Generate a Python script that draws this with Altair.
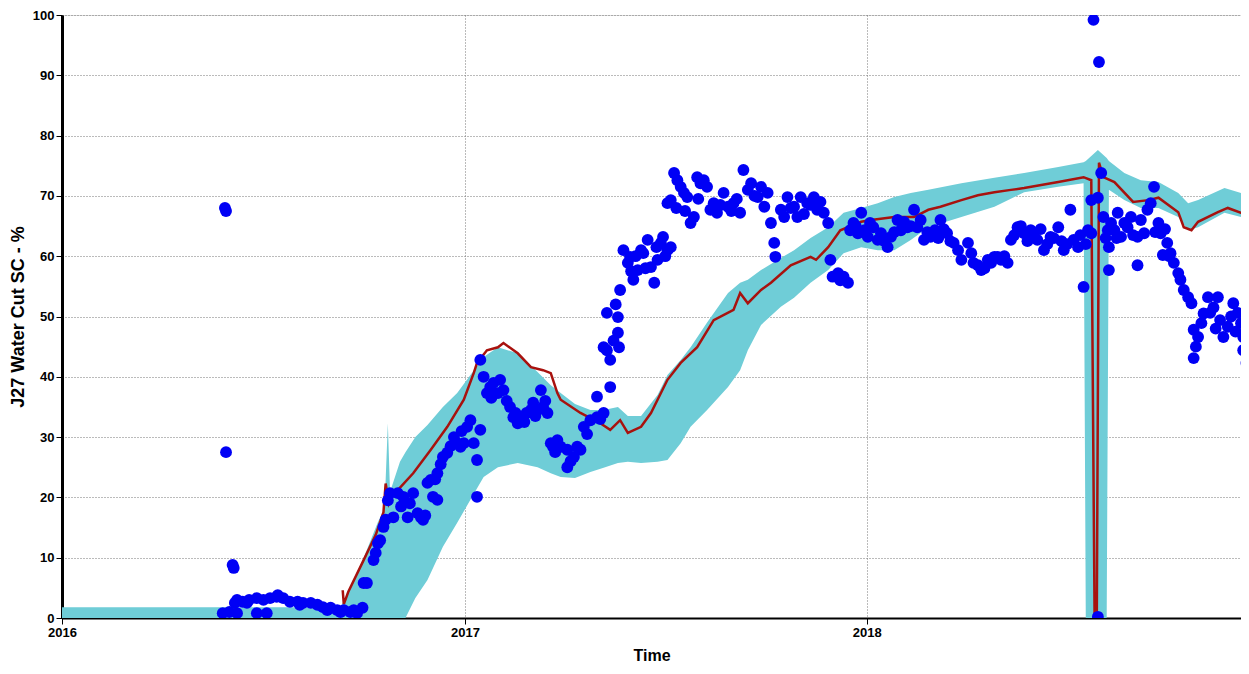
import altair as alt
import pandas as pd

# ---------------- data ----------------
band_dates = ["2016-01-01", "2016-09-10", "2016-09-19", "2016-10-02", "2016-10-14", "2016-10-20",
              "2016-10-23", "2016-10-25", "2016-11-03", "2016-11-08", "2016-11-17", "2016-11-28",
              "2016-12-12", "2016-12-25", "2017-01-06", "2017-01-18", "2017-01-31", "2017-02-18",
              "2017-03-08", "2017-03-20", "2017-03-29", "2017-04-11", "2017-04-25", "2017-05-07",
              "2017-05-20", "2017-05-29", "2017-06-10", "2017-06-25", "2017-07-04", "2017-07-16",
              "2017-07-25", "2017-08-09", "2017-08-28", "2017-09-08", "2017-09-15", "2017-09-27",
              "2017-10-15", "2017-10-27", "2017-11-11", "2017-11-27", "2017-12-11", "2017-12-27",
              "2018-01-11", "2018-01-26", "2018-02-10", "2018-02-26", "2018-03-28", "2018-04-27",
              "2018-05-24", "2018-06-24", "2018-07-17", "2018-07-19", "2018-07-30", "2018-08-07",
              "2018-08-09", "2018-08-23", "2018-09-07", "2018-09-23", "2018-10-11", "2018-10-20",
              "2018-10-29", "2018-11-22", "2018-12-07", "2018-12-15"]
band_upper = [1.8, 1.8, 5.0, 10.4, 15.9, 18.2,
              32.3, 20.9, 25.9, 27.5, 30.0, 32.0,
              35.0, 37.3, 40.3, 43.3, 44.9, 43.9,
              40.8, 38.6, 37.3, 35.5, 34.5, 34.5,
              35.0, 33.5, 33.5, 37.0, 40.3, 42.8,
              44.9, 49.0, 53.9, 55.6, 56.1, 57.7,
              59.7, 61.0, 63.0, 64.8, 67.2, 68.0,
              68.8, 69.8, 70.5, 71.0, 72.1, 73.0,
              73.8, 74.8, 75.6, 75.8, 77.6, 76.3,
              75.8, 73.8, 72.6, 72.3, 70.5, 68.8,
              69.3, 71.3, 70.5, 70.1]
band_lower = [0, 0, 0, 0, 0, 0,
              0, 0, 0, 0, 3.3, 6.3,
              11.8, 15.8, 19.6, 23.4, 25.0, 25.7,
              25.0, 24.0, 23.4, 23.2, 24.2, 24.9,
              25.7, 25.9, 25.7, 25.9, 26.2, 29.0,
              31.7, 34.5, 38.3, 41.1, 44.4, 48.6,
              51.6, 53.1, 55.6, 57.7, 60.5, 61.5,
              61.0, 61.0, 62.7, 64.8, 66.5, 68.2,
              70.6, 71.5, 72.1, 0, 0, 0,
              71.0, 69.3, 68.0, 68.0, 66.5, 64.3,
              64.8, 67.2, 66.5, 66.3]

hist_dates = ["2016-09-12", "2016-09-13", "2016-09-17", "2016-10-01", "2016-10-12", "2016-10-19",
              "2016-10-21", "2016-10-24", "2016-10-27", "2016-11-01", "2016-11-15", "2016-12-01",
              "2016-12-16", "2016-12-31", "2017-01-09", "2017-01-12", "2017-01-21", "2017-01-31",
              "2017-02-05", "2017-02-18", "2017-03-02", "2017-03-13", "2017-03-20", "2017-03-26",
              "2017-03-29", "2017-04-16", "2017-05-04", "2017-05-13", "2017-05-22", "2017-05-29",
              "2017-06-10", "2017-06-19", "2017-07-04", "2017-07-16", "2017-07-31", "2017-08-15",
              "2017-09-02", "2017-09-08", "2017-09-15", "2017-09-27", "2017-10-06", "2017-10-24",
              "2017-11-11", "2017-11-16", "2017-11-27", "2017-12-08", "2017-12-27", "2018-01-05",
              "2018-01-26", "2018-02-13", "2018-02-26", "2018-03-09", "2018-03-28", "2018-04-12",
              "2018-04-27", "2018-05-12", "2018-05-24", "2018-06-24", "2018-07-17", "2018-07-24",
              "2018-07-27", "2018-07-29", "2018-07-31", "2018-08-04", "2018-08-14", "2018-08-31",
              "2018-09-14", "2018-09-23", "2018-10-11", "2018-10-16", "2018-10-23", "2018-10-29",
              "2018-11-16", "2018-11-25", "2018-12-07", "2018-12-15"]
hist_values = [4.6, 2.3, 4.3, 9.6, 13.8, 17.5,
               22.3, 19.0, 20.4, 21.2, 24.0, 27.9,
               31.7, 36.2, 40.6, 42.3, 44.4, 44.9,
               45.6, 43.9, 41.6, 41.1, 40.6, 37.3,
               36.2, 34.0, 32.3, 31.2, 32.8, 30.7,
               31.7, 34.0, 39.5, 42.3, 44.9, 49.4,
               51.1, 53.9, 52.2, 54.4, 55.6, 58.5,
               59.9, 59.4, 61.5, 64.3, 65.7, 66.0,
               66.5, 66.5, 67.7, 68.2, 69.3, 70.1,
               70.6, 71.0, 71.3, 72.3, 73.1, 72.6,
               0, 0, 75.5, 73.1, 72.3, 69.0,
               69.3, 69.7, 67.3, 64.8, 64.3, 65.7,
               67.3, 68.0, 67.2, 66.8]

obs_dates = [
    "2016-05-28", "2016-05-29", "2016-05-29", "2016-06-04", "2016-06-05", "2016-05-26", "2016-06-01",
    "2016-06-06", "2016-06-08", "2016-06-08", "2016-06-13", "2016-06-17", "2016-06-19", "2016-06-26",
    "2016-06-26", "2016-07-02", "2016-07-05", "2016-07-08", "2016-07-14", "2016-07-15", "2016-07-20",
    "2016-07-26", "2016-08-02", "2016-08-04", "2016-08-07", "2016-08-14", "2016-08-20", "2016-08-25",
    "2016-08-29", "2016-09-01", "2016-09-07", "2016-09-10", "2016-09-13", "2016-09-19", "2016-09-22",
    "2016-09-25", "2016-09-30", "2016-10-01", "2016-10-04", "2016-10-10", "2016-10-12", "2016-10-14",
    "2016-10-16", "2016-10-19", "2016-10-21", "2016-10-25", "2016-10-28", "2016-11-01", "2016-11-06",
    "2016-11-10", "2016-11-15", "2016-11-19", "2016-11-22", "2016-11-24", "2016-11-28", "2016-12-01",
    "2016-12-03", "2016-12-07", "2016-12-07", "2016-12-12", "2016-12-16", "2016-12-22", "2016-12-25",
    "2016-12-28", "2016-12-31", "2017-01-03", "2017-01-06", "2017-01-09", "2017-01-12", "2017-01-12",
    "2017-01-15", "2017-01-15", "2017-01-18", "2017-01-21", "2017-01-24", "2017-01-27", "2017-01-31",
    "2017-02-02", "2017-02-05", "2017-02-11", "2017-02-14", "2017-02-18", "2017-02-20", "2017-02-23",
    "2017-02-26", "2017-03-02", "2017-03-04", "2017-03-08", "2017-03-11", "2017-03-13", "2017-03-17",
    "2017-03-20", "2017-03-22", "2017-03-26", "2017-03-29", "2017-04-04", "2017-04-04", "2017-04-10",
    "2017-04-13", "2017-04-16", "2017-04-19", "2017-04-25", "2017-05-01", "2017-05-07", "2017-05-01",
    "2017-05-13", "2017-05-07", "2017-05-10", "2017-05-13", "2017-05-10", "2017-05-20", "2017-05-20",
    "2017-05-21", "2017-05-22", "2017-05-25", "2017-05-29", "2017-05-31", "2017-06-03", "2017-06-07",
    "2017-06-10", "2017-06-12", "2017-06-16", "2017-06-19", "2017-06-22", "2017-06-25", "2017-06-28",
    "2017-06-30", "2017-07-04", "2017-07-07", "2017-07-04", "2017-07-07", "2017-07-10", "2017-07-13",
    "2017-07-16", "2017-07-19", "2017-07-22", "2017-07-25", "2017-07-28", "2017-07-31", "2017-08-03",
    "2017-08-06", "2017-08-09", "2017-08-12", "2017-08-15", "2017-08-18", "2017-08-24", "2017-08-28",
    "2017-09-02", "2017-09-08", "2017-09-11", "2017-09-15", "2017-09-18", "2017-09-24", "2017-09-30",
    "2017-09-27", "2017-10-03", "2017-10-06", "2017-10-09", "2017-10-10", "2017-10-15", "2017-10-21",
    "2017-10-27", "2017-10-30", "2017-11-02", "2017-11-08", "2017-11-14", "2017-11-17", "2017-11-23",
    "2017-11-27", "2017-11-29", "2017-12-01", "2017-12-06", "2017-12-11", "2017-12-15", "2017-12-17",
    "2017-12-20", "2017-12-24", "2017-12-27", "2017-12-30", "2018-01-02", "2018-01-07", "2018-01-11",
    "2018-01-14", "2018-01-20", "2018-01-23", "2018-01-29", "2018-02-01", "2018-02-04", "2018-02-07",
    "2018-02-13", "2018-02-16", "2018-02-22", "2018-02-28", "2018-03-04", "2018-03-09", "2018-03-15",
    "2018-03-21", "2018-03-25", "2018-03-28", "2018-04-03", "2018-04-08", "2018-04-15", "2018-04-21",
    "2018-04-24", "2018-04-27", "2018-04-30", "2018-05-03", "2018-05-09", "2018-05-12", "2018-05-18",
    "2018-05-24", "2018-05-30", "2018-06-05", "2018-06-11", "2018-06-17", "2018-06-24", "2018-06-29",
    "2018-07-05", "2018-07-08", "2018-07-12", "2018-07-17", "2018-07-21", "2018-07-24", "2018-07-24",
    "2018-07-26", "2018-07-30", "2018-07-30", "2018-07-31", "2018-08-02", "2018-08-04", "2018-08-08",
    "2018-08-09", "2018-08-09", "2018-08-14", "2018-08-17", "2018-08-20", "2018-08-26", "2018-08-29",
    "2018-09-04", "2018-09-04", "2018-09-10", "2018-09-13", "2018-09-16", "2018-09-19", "2018-09-23",
    "2018-09-25", "2018-09-27", "2018-10-01", "2018-10-04", "2018-10-07", "2018-10-11", "2018-10-13",
    "2018-10-16", "2018-10-20", "2018-10-23", "2018-10-25", "2018-10-25", "2018-10-29", "2018-11-01",
    "2018-11-07", "2018-11-09", "2018-11-16", "2018-11-18", "2018-11-21", "2018-11-25", "2018-11-30",
    "2018-12-04", "2018-12-07", "2018-12-09", "2018-12-09", "2018-12-12", "2018-12-14",
    # denser fill-in, read from the clusters
    "2016-10-23", "2016-11-04", "2016-11-12", "2016-11-26", "2016-12-05", "2016-12-10", "2016-12-19",
    "2016-12-29", "2017-01-25", "2017-02-08", "2017-02-16", "2017-02-24", "2017-03-06", "2017-03-15",
    "2017-03-24", "2017-04-07", "2017-04-22", "2017-05-04", "2017-05-16", "2017-05-18", "2017-06-01",
    "2017-06-05", "2017-06-14", "2017-06-24", "2017-07-02", "2017-07-12", "2017-07-20", "2017-08-01",
    "2017-08-21", "2017-08-31", "2017-09-05", "2017-09-21", "2017-10-18", "2017-10-24", "2017-11-05",
    "2017-11-11", "2017-11-20", "2017-12-08", "2017-12-22", "2018-01-04", "2018-01-17", "2018-01-26",
    "2018-02-10", "2018-02-19", "2018-02-25", "2018-03-07", "2018-03-12", "2018-03-18", "2018-04-06",
    "2018-04-12", "2018-04-18", "2018-05-06", "2018-05-15", "2018-05-21", "2018-05-27", "2018-06-02",
    "2018-06-08", "2018-06-14", "2018-06-20", "2018-06-27", "2018-07-02", "2018-07-14", "2018-07-19",
    "2018-08-06", "2018-08-11", "2018-08-16", "2018-08-23", "2018-08-31", "2018-09-07", "2018-09-20",
    "2018-09-29", "2018-10-03", "2018-10-27", "2018-11-03", "2018-11-12", "2018-11-14", "2018-11-28",
    "2018-12-02"]
obs_values = [
    68.0, 67.5, 27.5, 8.8, 8.3, 0.8, 1.0,
    2.5, 3.0, 0.8, 2.7, 2.5, 3.0, 3.3,
    0.8, 3.0, 0.8, 3.3, 3.5, 3.8, 3.3,
    2.7, 2.7, 2.2, 2.5, 2.5, 2.2, 1.8,
    1.3, 1.7, 1.3, 1.0, 1.3, 1.0, 1.3,
    0.8, 1.7, 5.8, 5.8, 9.6, 10.8, 12.4,
    12.9, 15.1, 16.3, 20.7, 16.7, 20.7, 20.1,
    16.7, 20.7, 17.4, 16.7, 16.3, 22.4, 22.9,
    20.1, 19.6, 24.0, 26.7, 27.4, 30.0, 29.0,
    28.4, 29.0, 31.7, 32.8, 29.0, 26.2, 20.1,
    31.2, 42.8, 40.0, 37.3, 38.3, 39.0, 37.3,
    39.5, 37.8, 35.0, 33.3, 32.3, 32.8, 33.3,
    34.0, 34.5, 35.7, 34.5, 37.8, 35.0, 34.0,
    29.0, 28.4, 29.5, 28.4, 27.9, 25.0, 26.7,
    28.4, 27.9, 31.7, 32.8, 33.3, 34.0, 36.7,
    38.3, 44.9, 44.4, 42.8, 50.6, 49.9, 47.3,
    44.9, 54.4, 61.0, 58.9, 59.9, 56.1, 57.7,
    61.0, 60.5, 62.7, 58.2, 55.6, 59.4, 62.2,
    63.2, 61.0, 61.5, 68.8, 69.3, 73.8, 72.6,
    71.5, 70.5, 69.8, 65.5, 66.5, 73.1, 72.1,
    72.6, 71.5, 67.7, 68.8, 67.2, 70.5, 68.2,
    68.8, 67.2, 74.3, 71.0, 72.1, 69.8, 68.2,
    71.5, 70.5, 65.5, 62.2, 59.9, 67.7, 69.8,
    68.2, 66.5, 69.8, 68.8, 69.8, 67.7, 67.2,
    65.5, 59.4, 56.6, 57.2, 56.6, 55.6, 64.3,
    65.5, 63.8, 67.2, 64.3, 63.2, 64.8, 62.7,
    63.8, 61.5, 63.2, 66.0, 64.3, 65.7, 64.8,
    67.7, 64.8, 62.7, 63.2, 64.3, 66.0, 63.8,
    62.2, 61.0, 59.4, 62.2, 58.9, 57.7, 59.4,
    58.9, 59.9, 59.9, 59.4, 58.9, 62.7, 64.8,
    63.8, 64.3, 62.7, 61.0, 63.2, 64.8, 61.0,
    67.7, 62.7, 61.5, 54.9, 64.3, 63.8, 69.3,
    99.2, 69.7, 0.2, 92.2, 73.8, 66.5, 64.3,
    61.5, 57.7, 64.3, 67.2, 63.2, 64.8, 66.5,
    63.2, 58.5, 63.8, 67.7, 68.8, 71.5, 65.5,
    63.8, 60.2, 62.2, 60.5, 58.9, 57.2, 56.1,
    54.4, 53.2, 52.2, 47.8, 43.1, 46.6, 48.9,
    53.2, 50.6, 53.2, 49.4, 46.6, 48.3, 52.2,
    50.6, 48.9, 46.6, 44.4, 42.3, 40.6,
    19.5, 18.5, 19.0, 17.0, 23.0, 25.5, 28.5,
    31.0, 36.5, 36.0, 34.0, 32.5, 33.5, 36.0,
    27.5, 26.0, 30.5, 33.0, 46.0, 52.0, 57.5,
    60.0, 58.0, 61.5, 60.0, 68.0, 67.5, 69.5,
    68.5, 67.5, 69.5, 70.0, 66.5, 68.0, 67.0,
    68.5, 69.0, 56.0, 65.0, 65.5, 62.5, 64.0,
    65.0, 66.0, 64.0, 63.0, 64.5, 62.5, 60.5,
    58.5, 58.0, 60.0, 63.5, 65.0, 62.5, 63.5,
    64.5, 62.0, 63.0, 62.5, 62.0, 63.5, 62.0,
    63.0, 65.5, 63.0, 65.5, 63.5, 66.0, 64.0,
    64.5, 60.0, 45.0, 50.5, 51.5, 48.0, 50.0,
    47.5]

y_ticks = [0, 10, 20, 30, 40, 50, 60, 70, 80, 90, 100]
x_tick_years = [2016, 2017, 2018]

# ---------------- tables ----------------
band_df = pd.DataFrame({"date": pd.to_datetime(band_dates), "upper": band_upper, "lower": band_lower})
hist_df = pd.DataFrame({"date": pd.to_datetime(hist_dates), "value": hist_values})
obs_df = pd.DataFrame({"date": pd.to_datetime(obs_dates), "value": obs_values})

FONT = "Liberation Sans"
CYAN = "#6FCDD7"
RED = "#A8120E"
BLUE = "#0000F5"

x_scale = alt.Scale(domain=[alt.DateTime(year=2016, month=1, date=1),
                            alt.DateTime(year=2018, month=12, date=7)])
y_scale = alt.Scale(domain=[0, 100], nice=False, zero=True)

x_axis = alt.Axis(
    title="Time", values=[alt.DateTime(year=y, month=1, date=1) for y in x_tick_years],
    format="%Y", labelFlush=False, labelFont=FONT, labelFontWeight="bold", labelFontSize=13,
    labelColor="#000", titleFont=FONT, titleFontWeight="bold", titleFontSize=16, titleColor="#000",
    titlePadding=8, tickColor="#000", tickSize=6, domainColor="#000", domainWidth=2,
    grid=True, gridColor="#777", gridDash=[1, 2], gridWidth=1, labelPadding=2,
)
y_axis = alt.Axis(
    title="J27 Water Cut SC - %", values=y_ticks, labelFlush=False, labelFont=FONT,
    labelFontWeight="bold", labelFontSize=13, labelColor="#000", titleFont=FONT,
    titleFontWeight="bold", titleFontSize=18, titleColor="#000", titlePadding=5,
    tickColor="#000", tickSize=6, domainColor="#000", domainWidth=3,
    grid=True, gridColor="#777", gridDash=[1, 2], gridWidth=1, labelPadding=2,
)

band = alt.Chart(band_df).mark_area(color=CYAN, opacity=1, clip=True).encode(
    x=alt.X("date:T", scale=x_scale, axis=x_axis),
    y=alt.Y("upper:Q", scale=y_scale, axis=y_axis),
    y2="lower:Q",
)

hist = alt.Chart(hist_df).mark_line(color=RED, strokeWidth=2.5, clip=True).encode(
    x=alt.X("date:T", scale=x_scale),
    y=alt.Y("value:Q", scale=y_scale),
)

obs = alt.Chart(obs_df).mark_circle(color=BLUE, size=140, opacity=1, clip=True).encode(
    x=alt.X("date:T", scale=x_scale),
    y=alt.Y("value:Q", scale=y_scale),
)

chart = alt.layer(band, hist, obs).properties(
    width=1179, height=603,
    autosize=alt.AutoSizeParams(type="none"),
    padding={"left": 54, "top": 7, "right": 0, "bottom": 48},
).configure_view(stroke="#000", strokeWidth=1.5).configure(background="white")

chart.save("out.html", embed_options={"renderer": "svg", "actions": False})
